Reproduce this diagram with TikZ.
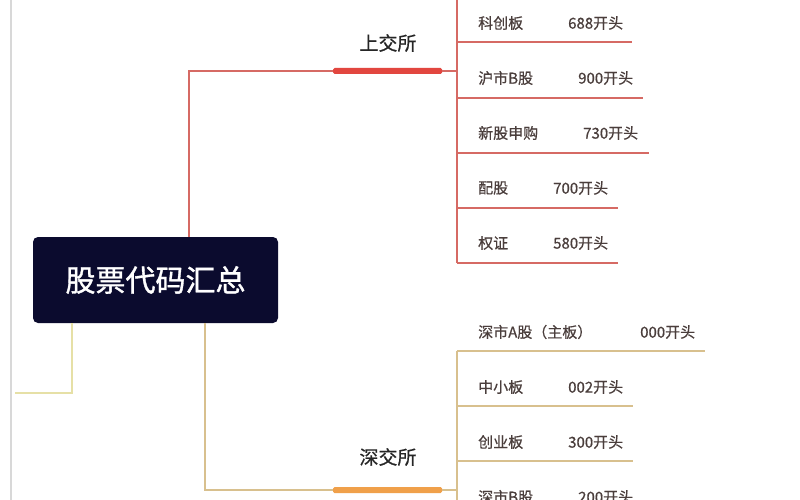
\documentclass[tikz,border=0pt]{standalone}
\usepackage{fontspec}
\newfontfamily\cjk{Noto Sans CJK SC}
\newfontfamily\cjkb[FakeBold=1.2]{Noto Sans CJK SC}
\newfontfamily\cjkm[FakeBold=0.6]{Noto Sans CJK SC}
\definecolor{navy}{HTML}{0B0B2E}
\definecolor{redthin}{HTML}{D66A64}
\definecolor{redbar}{HTML}{E2463F}
\definecolor{orbar}{HTML}{F0A04A}
\definecolor{tan}{HTML}{D8C08E}
\definecolor{yel}{HTML}{E6E0A6}
\definecolor{leafc}{HTML}{4A3E3C}
\definecolor{edge}{HTML}{D8D8D8}
\begin{document}
\begin{tikzpicture}[x=1pt,y=-1pt,
  rootbox/.style={fill=navy, rounded corners=5pt, minimum width=245pt, minimum height=86pt, inner sep=0, text=white, font=\cjkb\fontsize{30}{30}\selectfont},
  branchlbl/.style={inner sep=0, text=black!85, font=\cjkm\fontsize{19}{19}\selectfont},
  barbox/.style={minimum width=109pt, minimum height=6pt, inner sep=0, rounded corners=1.5pt},
  leaf/.style={anchor=west, inner sep=0, text=leafc, font=\cjkm\fontsize{15}{15}\selectfont},
  rline/.style={draw=redthin, line width=1.4pt},
  oline/.style={draw=tan, line width=1.4pt}]
\clip (0,0) rectangle (800,500);
\fill[white] (0,0) rectangle (800,500);
% left faint edge line
\draw[edge, line width=1.4pt] (11,0) -- (11,500);
% root
\node[rootbox] (root) at (155.5,280) {股票代码汇总};
% yellow connector
\coordinate (yend) at (15,393);
\draw[yel, line width=1.4pt] ([xshift=-83.5pt]root.south) |- (yend);
% Shanghai branch
\node[barbox, fill=redbar] (shbar) at (387.5,71) {};
\node[branchlbl] (shlbl) at (388,43) {上交所};
\coordinate (shtrunk) at (457,71);
\draw[rline] ([xshift=33.5pt]root.north) |- (shbar.west);
\draw[rline] (shbar.east) -- (shtrunk);
\draw[rline] (457,0) -- (457,263);
% Shanghai leaves
\node[leaf] (l1) at (478,23) {科创板};   \node[leaf] (c1) at (568,23) {688开头};
\node[leaf] (l2) at (478,78) {沪市B股};  \node[leaf] (c2) at (578,78) {900开头};
\node[leaf] (l3) at (478,133) {新股申购}; \node[leaf] (c3) at (583,133) {730开头};
\node[leaf] (l4) at (478,188) {配股};    \node[leaf] (c4) at (553,188) {700开头};
\node[leaf] (l5) at (478,243) {权证};    \node[leaf] (c5) at (553,243) {580开头};
\draw[rline] (457,42) -- (632,42);
\draw[rline] (457,98) -- (643,98);
\draw[rline] (457,153) -- (649,153);
\draw[rline] (457,208) -- (618,208);
\draw[rline] (457,263) -- (618,263);
% Shenzhen branch
\node[barbox, fill=orbar] (szbar) at (387.5,490) {};
\node[branchlbl] (szlbl) at (388,457) {深交所};
\coordinate (sztrunk) at (457,490);
\draw[oline] ([xshift=49.5pt]root.south) |- (szbar.west);
\draw[oline] (szbar.east) -- (sztrunk);
\draw[oline] (457,351) -- (457,500);
% Shenzhen leaves
\node[leaf] (m1) at (478,332) {深市A股（主板）}; \node[leaf] (d1) at (640,332) {000开头};
\node[leaf] (m2) at (478,387) {中小板};  \node[leaf] (d2) at (568,387) {002开头};
\node[leaf] (m3) at (478,442) {创业板};  \node[leaf] (d3) at (568,442) {300开头};
\node[leaf] (m4) at (478,497) {深市B股}; \node[leaf] (d4) at (578,497) {200开头};
\draw[oline] (457,351) -- (705,351);
\draw[oline] (457,406) -- (633,406);
\draw[oline] (457,461) -- (633,461);
\end{tikzpicture}
\end{document}
